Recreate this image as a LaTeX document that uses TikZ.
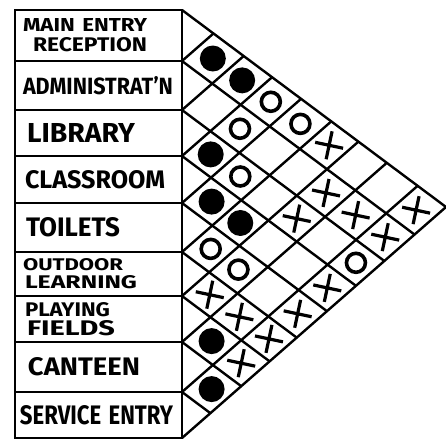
\documentclass[tikz,border=0pt]{standalone}
\usepackage{fontspec}
\setmainfont{Fira Sans}
\usepackage{graphicx}
\usetikzlibrary{positioning,calc,shapes.misc}

% hand lettering: width, cap height, text
\newcommand{\hand}[3]{\resizebox{#1pt}{#2pt}{\bfseries #3}}

\begin{document}
\begin{tikzpicture}[x=1pt,y=1pt,line width=2.4pt]
  \tikzstyle{room}=[draw,line width=2pt,outer sep=0pt,minimum width=167pt,text width=151pt,inner xsep=8pt,inner ysep=0pt,align=left]
  \tikzstyle{essential}=[circle,fill=black,minimum size=26pt,inner sep=0pt]
  \tikzstyle{desirable}=[circle,draw,line width=3.6pt,minimum size=19pt,inner sep=0pt]
  \tikzstyle{apart}=[cross out,draw,line width=3.2pt,minimum size=17pt,inner sep=0pt,rotate=-57]
  \useasboundingbox (0,0) rectangle (446,-441);
  % room list
  \node[room,minimum height=51pt,anchor=north west] (entry) at (15,-10) {\hand{124}{13}{MAIN ENTRY}\\[5pt]\hspace*{10pt}\hand{114}{14}{RECEPTION}};
  \node[room,minimum height=49pt,below=0pt of entry] (admin) {\hand{150}{18}{ADMINISTRAT'N}};
  \node[room,minimum height=46pt,below=0pt of admin] (library) {\hspace*{4pt}\hand{108}{19}{LIBRARY}};
  \node[room,minimum height=47pt,below=0pt of library] (classroom) {\hspace*{2pt}\hand{140}{18}{CLASSROOM}};
  \node[room,minimum height=49pt,below=0pt of classroom] (toilets) {\hspace*{3pt}\hand{94}{19}{TOILETS}};
  \node[room,minimum height=44pt,below=0pt of toilets] (outdoor) {\hand{100}{12}{OUTDOOR}\\[4pt]\hspace*{2pt}\hand{112}{13}{LEARNING}};
  \node[room,minimum height=46pt,below=0pt of outdoor] (playing) {\hspace*{2pt}\hand{85}{14}{PLAYING}\\[3pt]\hspace*{4pt}\hand{88}{15}{FIELDS}};
  \node[room,minimum height=50pt,below=0pt of playing] (canteen) {\hspace*{5pt}\hand{112}{18}{CANTEEN}};
  \node[room,minimum height=46pt,below=0pt of canteen] (service) {\hspace*{-3pt}\hand{153}{19}{SERVICE ENTRY}};
  % relationship triangle
  \coordinate (apex) at (446,-207);
  \draw (entry.north east) -- (apex) -- (service.south east);
  \foreach \r in {entry,admin,library,classroom,toilets,outdoor,playing,canteen}
    \draw let \p1=(\r.south east), \p2=(entry.north east), \p3=(service.south east),
              \p4=($(apex)-(\p3)$), \p5=($(apex)-(\p2)$) in
      ($(\p3)+{((\y1)-(\y3))/((\y2)-(\y3))}*(\p4)$) -- (\p1) -- ($(\p2)+{((\y2)-(\y1))/((\y2)-(\y3))}*(\p5)$);
  % marks
  \foreach \a/\b/\m in {entry/admin/essential,entry/library/essential,entry/classroom/desirable,entry/toilets/desirable,entry/outdoor/apart,entry/service/apart,
      admin/classroom/desirable,admin/playing/apart,admin/canteen/apart,admin/service/apart,
      library/classroom/essential,library/toilets/desirable,library/playing/apart,library/service/desirable,
      classroom/toilets/essential,classroom/outdoor/essential,classroom/service/apart,
      toilets/outdoor/desirable,toilets/playing/desirable,toilets/service/apart,
      outdoor/playing/apart,outdoor/canteen/apart,outdoor/service/apart,
      playing/canteen/essential,playing/service/apart,canteen/service/essential}
    \path let \p1=(\a.east), \p2=(\b.east), \p3=(entry.north east), \p4=(service.south east), \p5=($(apex)-(\p3)$) in
      node[\m] (\a-\b) at ($(\p1)+{((\y1)-(\y2))/((\y3)-(\y4))}*(\p5)$) {};
\end{tikzpicture}
\end{document}
